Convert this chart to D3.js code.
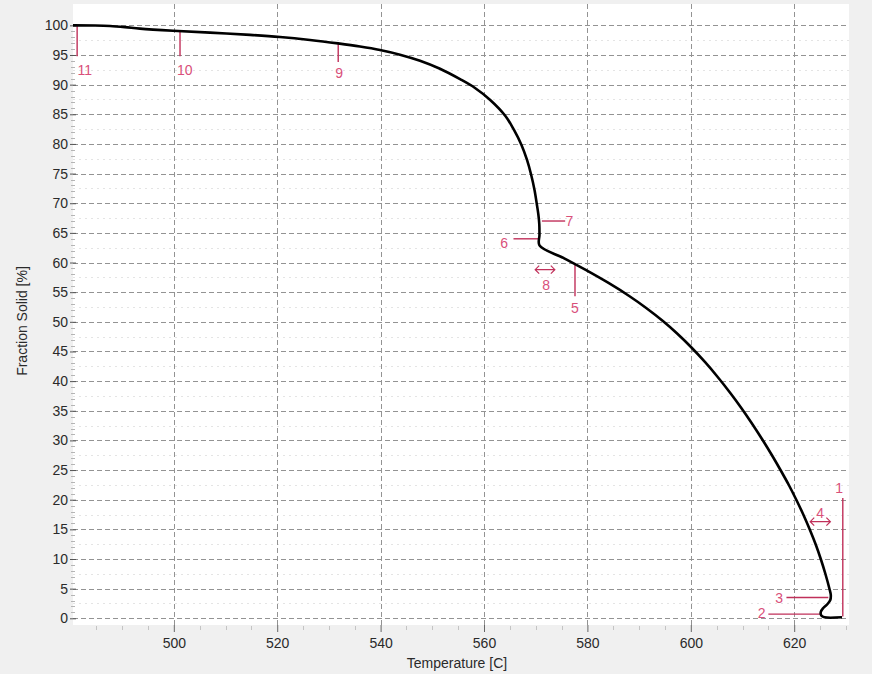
<!DOCTYPE html>
<html>
<head>
<meta charset="utf-8">
<script src="https://cdn.jsdelivr.net/npm/d3@7/dist/d3.min.js"></script>
<style>
  html, body { margin: 0; padding: 0; background: #f0f0f0; }
  svg { display: block; font-family: "Liberation Sans", Arial, sans-serif; }
</style>
</head>
<body>
<svg id="chart" width="872" height="674"></svg>
<script>
// Solidification path: temperature [C] against fraction solid [%], liquidus to solidus
const temperature = [
  629.25, 625.86, 625.24, 625.14, 625.63, 626.44, 626.98, 627.08, 626.83, 626.04,
  625.14, 624.20, 623.05, 621.80, 620.43, 618.96, 617.35, 615.67, 613.77, 611.89,
  609.77, 607.64, 605.20, 602.73, 599.94, 597.25, 594.60, 591.37, 588.08, 584.08,
  579.67, 575.36, 570.73, 570.73, 570.69, 570.50, 570.21, 569.77, 569.13, 568.32,
  567.25, 565.80, 564.14, 561.20, 558.26, 555.36, 551.49, 547.62, 543.75, 539.88,
  536.01, 531.76, 526.34, 520.54, 514.74, 507.00, 499.84, 493.46, 490.56, 487.66,
  484.76, 480.50
];
const fractionSolid = [
  0.17, 0.17, 0.47, 1.06, 1.74, 2.41, 3.09, 3.93, 4.94, 7.47,
  10.0, 12.36, 14.89, 17.42, 19.95, 22.48, 25.01, 27.54, 30.24, 32.77,
  35.47, 38.0, 40.70, 43.23, 45.84, 48.12, 50.14, 52.34, 54.36, 56.55,
  58.75, 60.77, 62.88, 64.65, 66.50, 68.19, 69.88, 72.24, 74.77, 77.30,
  79.83, 82.36, 84.72, 87.42, 89.44, 90.93, 92.68, 94.03, 95.06, 95.85,
  96.44, 96.96, 97.54, 98.04, 98.40, 98.77, 99.08, 99.44, 99.70, 99.90,
  99.98, 100.0
];

// Tick values
const xTicks = [500, 520, 540, 560, 580, 600, 620];
const yTicks = d3.range(0, 101, 5);

// Numbered event markers along the path
const markerIds    = ["1", "2", "3", "4", "5", "6", "7", "8", "9", "10", "11"];
const markerKind   = ["v", "h", "h", "arrow", "v", "h", "h", "arrow", "v", "v", "v"];
const markerT1     = [629.4, 615.0, 618.5, 623.1, 577.6, 565.7, 571.2, 569.9, 531.8, 501.2, 481.3];
const markerT2     = [629.4, 625.0, 626.6, 627.0, 577.6, 570.7, 575.7, 573.7, 531.8, 501.2, 481.3];
const markerF1     = [20.3, 0.7, 3.5, 16.3, 59.7, 64.0, 67.0, 58.8, 97.0, 99.1, 100.0];
const markerF2     = [0.3, 0.7, 3.5, 16.3, 54.3, 64.0, 67.0, 58.8, 93.8, 94.8, 94.8];
const labelT       = [628.7, 613.7, 617.1, 625.0, 577.6, 563.9, 576.5, 572.0, 532.0, 502.1, 482.8];
const labelF       = [22.0, 0.95, 3.4, 17.7, 52.3, 63.3, 67.0, 56.3, 92.0, 92.5, 92.5];

const svg = d3.select("#chart");
const plot = { left: 73, right: 849, top: 4, bottom: 625 };

const x = d3.scaleLinear().domain([480.5, 630.6]).range([plot.left, plot.right]);
const y = d3.scaleLinear().domain([-1.13, 103.6]).range([plot.bottom, plot.top]);

// plot background
svg.append("rect")
  .attr("x", plot.left).attr("y", plot.top)
  .attr("width", plot.right - plot.left).attr("height", plot.bottom - plot.top)
  .attr("fill", "#ffffff");

// faint minor horizontal grid
const minorY = d3.range(2.5, 101, 5);
svg.append("g").selectAll("line").data(minorY).join("line")
  .attr("x1", plot.left).attr("x2", plot.right)
  .attr("y1", d => Math.round(y(d)) + 0.5).attr("y2", d => Math.round(y(d)) + 0.5)
  .attr("stroke", "#e4e4e4").attr("stroke-dasharray", "2,4");

// major horizontal grid
svg.append("g").selectAll("line").data(yTicks).join("line")
  .attr("x1", plot.left).attr("x2", plot.right)
  .attr("y1", d => Math.round(y(d)) + 0.5).attr("y2", d => Math.round(y(d)) + 0.5)
  .attr("stroke", "#939393").attr("stroke-dasharray", "5,3");

// major vertical grid
svg.append("g").selectAll("line").data(xTicks).join("line")
  .attr("y1", plot.top).attr("y2", plot.bottom)
  .attr("x1", d => Math.round(x(d)) + 0.5).attr("x2", d => Math.round(x(d)) + 0.5)
  .attr("stroke", "#939393").attr("stroke-dasharray", "5,3");

// Y axis: major ticks, minor ticks, labels
const yAxis = d3.axisLeft(y).tickValues(yTicks).tickSize(6).tickPadding(2);
const gy = svg.append("g").attr("transform", `translate(${plot.left + 3},0)`).call(yAxis);
gy.select(".domain").remove();
gy.selectAll(".tick line").attr("stroke", "#555");
gy.selectAll(".tick text").attr("font-size", 14).attr("fill", "#2a2a2a")
  .attr("font-family", "Liberation Sans, Arial, sans-serif");
const yMinor = d3.range(0, 101, 1).filter(v => v % 5 !== 0);
svg.append("g").selectAll("line").data(yMinor).join("line")
  .attr("x1", plot.left - 2).attr("x2", plot.left + 2)
  .attr("y1", d => Math.round(y(d)) + 0.5).attr("y2", d => Math.round(y(d)) + 0.5)
  .attr("stroke", "#b5b5b5");

// X axis: ticks below the plot and labels
const xAxis = d3.axisBottom(x).tickValues(xTicks).tickSize(7).tickPadding(6);
const gx = svg.append("g").attr("transform", `translate(0,${plot.bottom})`).call(xAxis);
gx.select(".domain").remove();
gx.selectAll(".tick line").attr("stroke", "#666");
gx.selectAll(".tick text").attr("font-size", 14).attr("fill", "#2a2a2a")
  .attr("font-family", "Liberation Sans, Arial, sans-serif");
const xMinor = d3.range(485, 631, 5).filter(v => v % 20 !== 0);
svg.append("g").selectAll("line").data(xMinor).join("line")
  .attr("x1", d => Math.round(x(d)) + 0.5).attr("x2", d => Math.round(x(d)) + 0.5)
  .attr("y1", plot.bottom + 1).attr("y2", plot.bottom + 5)
  .attr("stroke", "#c4c4c4");

// axis titles
svg.append("text")
  .attr("x", 457).attr("y", 668)
  .attr("text-anchor", "middle").attr("font-size", 14).attr("fill", "#2a2a2a")
  .text("Temperature [C]");
svg.append("text")
  .attr("transform", "translate(27,321) rotate(-90)")
  .attr("text-anchor", "middle").attr("font-size", 14).attr("fill", "#2a2a2a")
  .text("Fraction Solid [%]");

// event markers
const markerColor = "#c0305a";
const labelColor = "#d9507a";
const mg = svg.append("g");
markerIds.forEach((id, i) => {
  const x1 = x(markerT1[i]), x2 = x(markerT2[i]);
  const y1 = y(markerF1[i]), y2 = y(markerF2[i]);
  const g = mg.append("g");
  if (markerKind[i] === "arrow") {
    const a = 4;
    g.append("path")
      .attr("d", `M${x1},${y1}H${x2}M${x1 + a},${y1 - a}L${x1},${y1}L${x1 + a},${y1 + a}` +
                 `M${x2 - a},${y2 - a}L${x2},${y2}L${x2 - a},${y2 + a}`)
      .attr("fill", "none").attr("stroke", markerColor).attr("stroke-width", 1.2);
  } else {
    g.append("line")
      .attr("x1", x1).attr("x2", x2).attr("y1", y1).attr("y2", y2)
      .attr("stroke", markerColor).attr("stroke-width", 1.4);
  }
  g.append("text")
    .attr("x", x(labelT[i])).attr("y", y(labelF[i]))
    .attr("dy", "0.36em").attr("text-anchor", "middle")
    .attr("font-size", 14).attr("fill", labelColor)
    .text(id);
});

// solidification curve
const pts = temperature.map((t, i) => [t, fractionSolid[i]]);
const line = d3.line()
  .x(d => x(d[0])).y(d => y(d[1]))
  .curve(d3.curveCatmullRom.alpha(0.5));
svg.append("path")
  .datum(pts)
  .attr("d", line)
  .attr("fill", "none")
  .attr("stroke", "#000")
  .attr("stroke-width", 2.6)
  .attr("stroke-linejoin", "round")
  .attr("stroke-linecap", "butt");
</script>
</body>
</html>
